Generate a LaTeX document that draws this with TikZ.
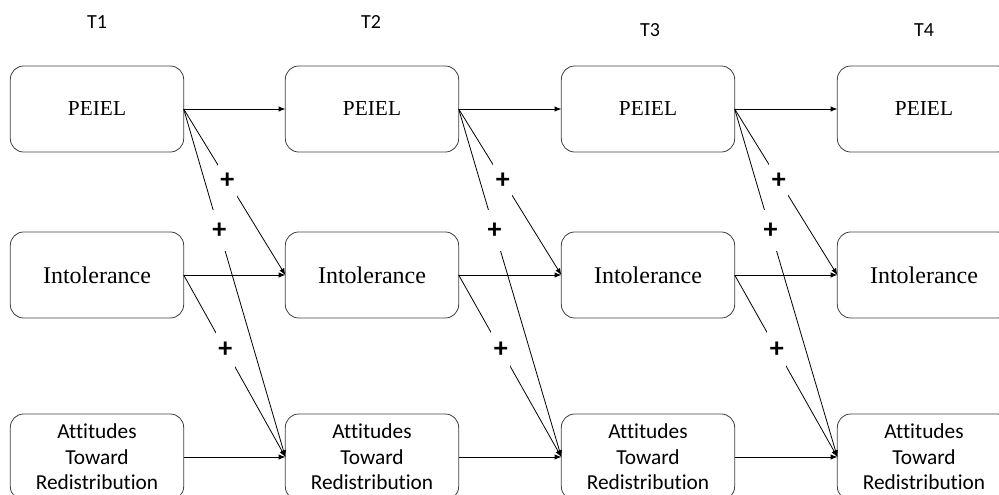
\documentclass[tikz,border=0pt]{standalone}
\usepackage{fontspec}
\setmainfont{Liberation Serif}
\newfontfamily\calibfont[Ligatures=NoCommon]{Carlito}
\usetikzlibrary{arrows.meta,positioning}
\tikzset{
	varbox/.style={draw=black!75, rounded corners=10pt, minimum width=130pt,
		minimum height=64.5pt, inner sep=0, outer sep=0},
	plus/.style={fill=white, inner sep=0, minimum width=14pt, minimum height=31pt,
		font=\calibfont\bfseries\fontsize{21}{21}\selectfont},
	wave/.style={font=\calibfont\fontsize{15}{17}\selectfont},
	peiel/.style={varbox, font=\fontsize{16}{18}\selectfont},
	intol/.style={varbox, font=\fontsize{18}{20}\selectfont},
	attit/.style={varbox, align=center, font=\calibfont\fontsize{16}{19}\selectfont}
}
\newcommand{\attext}{Attitudes\\Toward\\Redistribution}

\begin{document}
\begin{tikzpicture}[x=0.75pt, y=-0.75pt, ->, >={Latex[length=5pt,width=4pt]},
				semithick]
				\clip (0,0) rectangle (999,495);
				% waves
				\node[wave] (t1) at (97, 22) {T1};
				\node[wave] (t2) at (371, 22) {T2};
				\node[wave] (t3) at (650, 30) {T3};
				\node[wave] (t4) at (924, 30) {T4};
				% PEIEL
				\node[peiel] (p1) at (97, 109) {PEIEL};
				\node[peiel] (p2) at (372, 109) {PEIEL};
				\node[peiel] (p3) at (648, 109) {PEIEL};
				\node[peiel] (p4) at (924, 109) {PEIEL};
				% Intolerance
				\node[intol] (i1) at (97, 275) {Intolerance};
				\node[intol] (i2) at (372, 275) {Intolerance};
				\node[intol] (i3) at (648, 275) {Intolerance};
				\node[intol] (i4) at (924, 275) {Intolerance};
				% attitudes
				\node[attit] (a1) at (97, 457) {\attext};
				\node[attit] (a2) at (372, 457) {\attext};
				\node[attit] (a3) at (648, 457) {\attext};
				\node[attit] (a4) at (924, 457) {\attext};
				% stability paths
				\path (p1) edge (p2) (p2) edge (p3) (p3) edge (p4);
				\path (i1) edge (i2) (i2) edge (i3) (i3) edge (i4);
				\path (a1) edge (a2) (a2) edge (a3) (a3) edge (a4);
				% cross-lagged paths
				\path (p1.east) edge node[plus, pos=0.43] {+} (i2.west);
				\path (p1.east) edge node[plus, pos=0.35] {+} (a2.west);
				\path (i1.east) edge node[plus, pos=0.41] {+} (a2.west);
				\path (p2.east) edge node[plus, pos=0.43] {+} (i3.west);
				\path (p2.east) edge node[plus, pos=0.35] {+} (a3.west);
				\path (i2.east) edge node[plus, pos=0.41] {+} (a3.west);
				\path (p3.east) edge node[plus, pos=0.43] {+} (i4.west);
				\path (p3.east) edge node[plus, pos=0.35] {+} (a4.west);
				\path (i3.east) edge node[plus, pos=0.41] {+} (a4.west);
			\end{tikzpicture}
\end{document}
